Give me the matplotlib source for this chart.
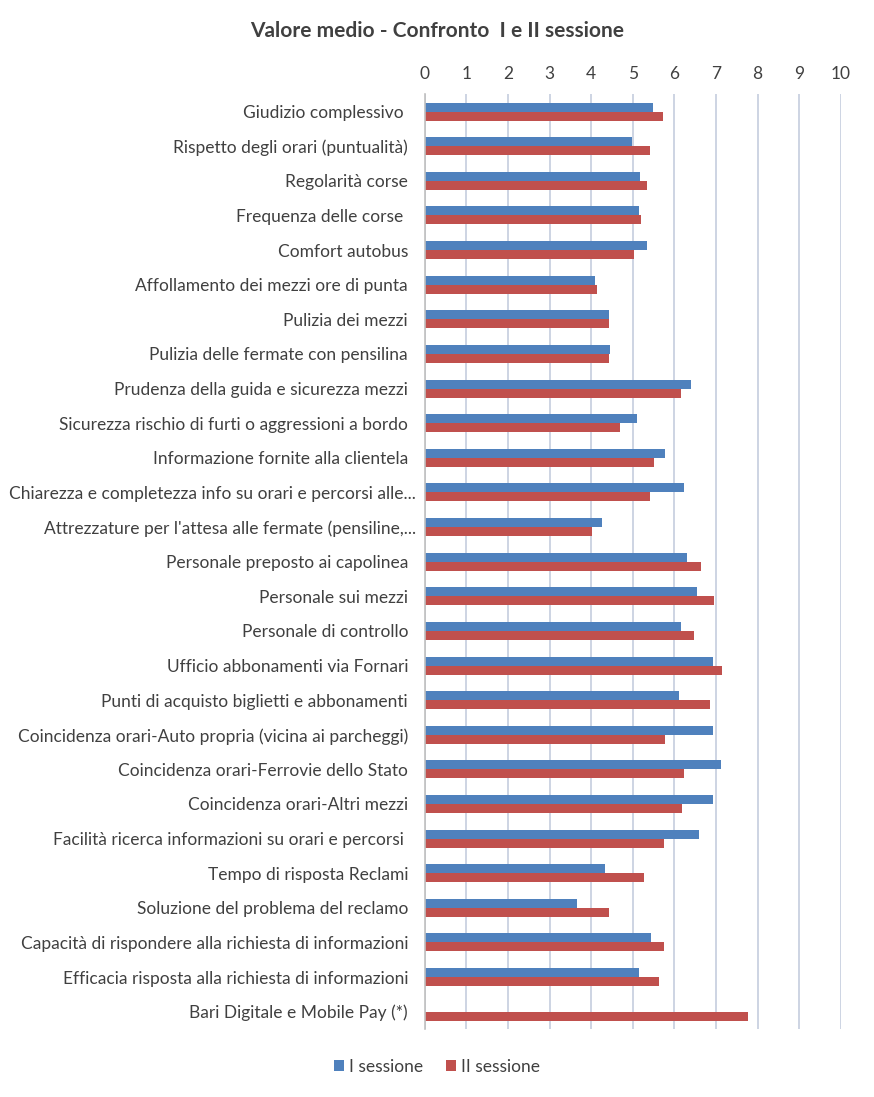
import matplotlib
matplotlib.use("Agg")
import matplotlib.pyplot as plt
import matplotlib.transforms as mtransforms
import numpy as np

plt.rcParams['font.family'] = ['Lato', 'DejaVu Sans']

# Categories (top to bottom) and mean values per session
categories = [
    "Giudizio complessivo ",
    "Rispetto degli orari (puntualità)",
    "Regolarità corse",
    "Frequenza delle corse ",
    "Comfort autobus",
    "Affollamento dei mezzi ore di punta",
    "Pulizia dei mezzi",
    "Pulizia delle fermate con pensilina",
    "Prudenza della guida e sicurezza mezzi",
    "Sicurezza rischio di furti o aggressioni a bordo",
    "Informazione fornite alla clientela",
    "Chiarezza e completezza info su orari e percorsi alle...",
    "Attrezzature per l'attesa alle fermate (pensiline,...",
    "Personale preposto ai capolinea",
    "Personale sui mezzi",
    "Personale di controllo",
    "Ufficio abbonamenti via Fornari",
    "Punti di acquisto biglietti e abbonamenti",
    "Coincidenza orari-Auto propria (vicina ai parcheggi)",
    "Coincidenza orari-Ferrovie dello Stato",
    "Coincidenza orari-Altri mezzi",
    "Facilità ricerca informazioni su orari e percorsi ",
    "Tempo di risposta Reclami",
    "Soluzione del problema del reclamo",
    "Capacità di rispondere alla richiesta di informazioni",
    "Efficacia risposta alla richiesta di informazioni",
    "Bari Digitale e Mobile Pay (*)",
]

sessione_1 = [5.49, 4.99, 5.18, 5.14, 5.33, 4.08, 4.42, 4.46, 6.40, 5.09,
              5.78, 6.24, 4.27, 6.31, 6.54, 6.17, 6.94, 6.12, 6.94, 7.13,
              6.94, 6.58, 4.34, 3.65, 5.45, 5.14, np.nan]
sessione_2 = [5.73, 5.42, 5.35, 5.20, 5.02, 4.13, 4.44, 4.44, 6.17, 4.70,
              5.52, 5.42, 4.03, 6.65, 6.96, 6.46, 7.15, 6.86, 5.78, 6.22,
              6.19, 5.74, 5.26, 4.44, 5.74, 5.64, 7.78]

series_names = ["I sessione", "II sessione"]
colors = ["#4F81BD", "#C0504D"]
text_color = "#404040"

fig = plt.figure(figsize=(8.74, 10.97), dpi=100)
ax = fig.add_axes([0.486, 0.062, 0.476, 0.852])

y = np.arange(len(categories))
h = 0.26
ax.barh(y - h / 2, sessione_1, height=h, color=colors[0], label=series_names[0], zorder=3)
ax.barh(y + h / 2, sessione_2, height=h, color=colors[1], label=series_names[1], zorder=3)

ax.set_xlim(0, 10)
ax.set_ylim(len(categories) - 0.5, -0.5)
ax.set_xticks(range(0, 11))
ax.xaxis.tick_top()
ax.set_yticks(y)
ax.set_yticklabels(categories)
ax.tick_params(axis='both', length=0, labelsize=12.5, colors=text_color)
ax.tick_params(axis='x', pad=9)
ax.tick_params(axis='y', pad=12)

# truncated labels sit closer to the axis, as in the original
shift = mtransforms.ScaledTranslation(0.08, 0, fig.dpi_scale_trans)
for lab in ax.get_yticklabels():
    if lab.get_text().endswith("..."):
        lab.set_transform(lab.get_transform() + shift)

ax.grid(axis='x', color="#C9D1E0", linewidth=1.3, zorder=0)
for s in ['top', 'right', 'bottom']:
    ax.spines[s].set_visible(False)
ax.spines['left'].set_color("#C0C0C0")
ax.spines['left'].set_linewidth(1.2)
ax.spines['left'].set_zorder(4)

fig.suptitle("Valore medio - Confronto  I e II sessione", x=0.5, y=0.981,
             fontsize=15, fontweight='bold', color=text_color)

fig.legend(loc='lower center', bbox_to_anchor=(0.5, 0.006), ncol=2, frameon=False,
           fontsize=12.5, handlelength=0.6, handleheight=0.6, handletextpad=0.3,
           columnspacing=1.3, labelcolor=text_color)

fig.savefig("out.png", dpi=100)
